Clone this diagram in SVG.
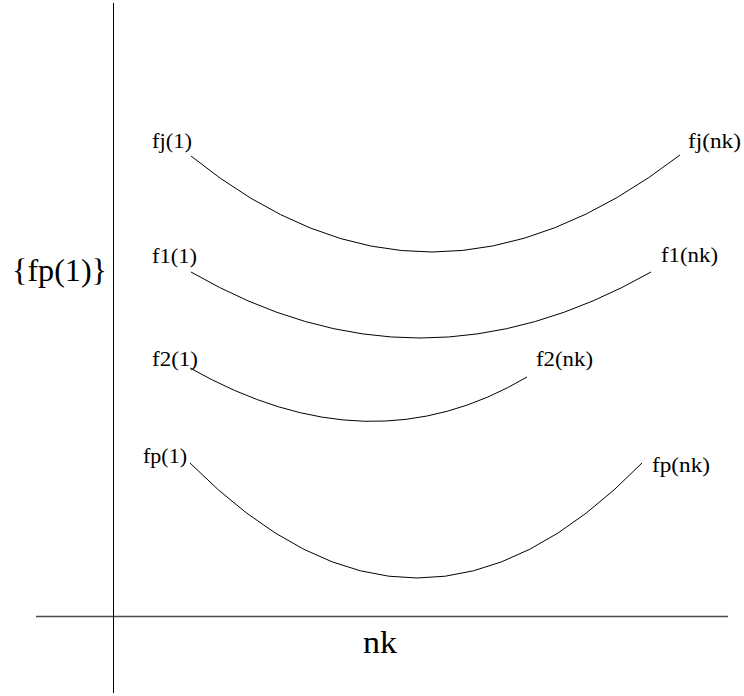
<svg xmlns="http://www.w3.org/2000/svg" width="744" height="696" viewBox="0 0 744 696">
<style>
.lbl{font-family:"Liberation Serif","Times New Roman",serif;font-size:20.5px;fill:#000}
.big{font-family:"Liberation Serif","Times New Roman",serif;font-size:31px;fill:#000}
.c{fill:none;stroke:#000;stroke-width:1}
</style>
<rect width="744" height="696" fill="#fff"/>
<g id="axes">
<line x1="113.5" y1="3" x2="113.5" y2="693" stroke="#000" stroke-width="1"/>
<line x1="36" y1="616.5" x2="728" y2="616.5" stroke="#000" stroke-width="1.3" stroke-opacity="0.7"/>
</g>
<g id="axis-labels">
<text class="big" x="12" y="281" textLength="95" lengthAdjust="spacingAndGlyphs">{fp(1)}</text>
<text class="big" x="363" y="653" textLength="34" lengthAdjust="spacingAndGlyphs">nk</text>
</g>
<g id="connectors">
<path class="c" d="M191,156 Q428.5,348.5 680,155"/>
<path class="c" d="M191,272 Q419,404 651,272"/>
<path class="c" d="M190,368 Q370,470 527,377"/>
<path class="c" d="M190,463 Q418,693 642,463"/>
</g>
<g id="fj">
<text class="lbl" x="152" y="148" textLength="40" lengthAdjust="spacingAndGlyphs">fj(1)</text>
<text class="lbl" x="688" y="148" textLength="53" lengthAdjust="spacingAndGlyphs">fj(nk)</text>
</g>
<g id="f1">
<text class="lbl" x="152" y="263" textLength="45" lengthAdjust="spacingAndGlyphs">f1(1)</text>
<text class="lbl" x="661" y="262" textLength="57" lengthAdjust="spacingAndGlyphs">f1(nk)</text>
</g>
<g id="f2">
<text class="lbl" x="152" y="366" textLength="46" lengthAdjust="spacingAndGlyphs">f2(1)</text>
<text class="lbl" x="536" y="366" textLength="57" lengthAdjust="spacingAndGlyphs">f2(nk)</text>
</g>
<g id="fp">
<text class="lbl" x="143" y="463" textLength="44" lengthAdjust="spacingAndGlyphs">fp(1)</text>
<text class="lbl" x="652" y="472" textLength="58" lengthAdjust="spacingAndGlyphs">fp(nk)</text>
</g>
</svg>
